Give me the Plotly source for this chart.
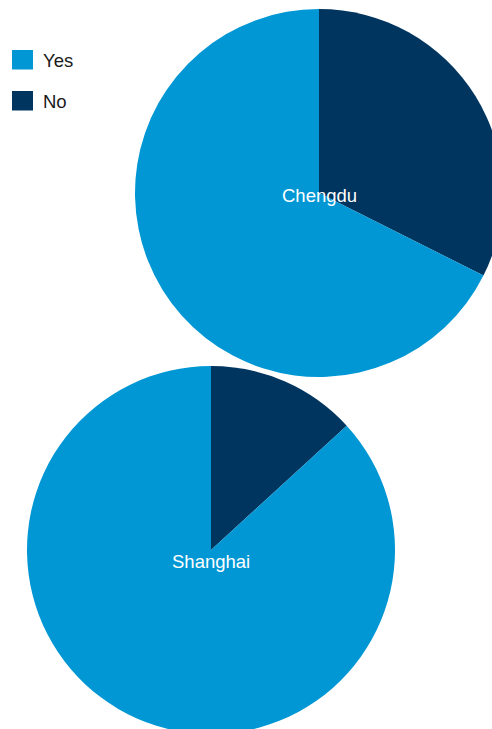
import plotly.graph_objects as go

# Share of respondents answering Yes / No, by city
cities = ["Chengdu", "Shanghai"]
answers = ["Yes", "No"]
chengdu_values = [67.6, 32.4]
shanghai_values = [86.8, 13.2]

colors = {"Yes": "#0097d4", "No": "#00355f"}
font_family = "Liberation Sans, Arial, Helvetica, sans-serif"

W, H = 510, 740


def px_x(x):
    return x / W


def px_y(y):
    return 1 - y / H


# Pie placement (pixel boxes: left, top, size) and label nudge below centre
boxes = {"Chengdu": (135, 9, 368), "Shanghai": (27, 366, 368)}
label_dy = {"Chengdu": 3, "Shanghai": 11}
values = {"Chengdu": chengdu_values, "Shanghai": shanghai_values}

fig = go.Figure()
annotations = []
for city in cities:
    left, top, size = boxes[city]
    # "No" slice starts at 12 o'clock and runs clockwise, "Yes" fills the rest
    order = answers[::-1]
    vals = values[city][::-1]
    fig.add_trace(go.Pie(
        labels=order,
        values=vals,
        name=city,
        marker=dict(colors=[colors[a] for a in order], line=dict(width=0)),
        textinfo="none",
        hoverinfo="label+percent+name",
        sort=False,
        direction="clockwise",
        rotation=0,
        showlegend=False,
        domain=dict(x=[px_x(left), px_x(left + size)],
                    y=[px_y(top + size), px_y(top)]),
    ))
    annotations.append(dict(
        text=city, showarrow=False,
        x=px_x(left + size / 2), y=px_y(top + size / 2 + label_dy[city]),
        xref="paper", yref="paper", xanchor="center", yanchor="middle",
        font=dict(family=font_family, size=18.5, color="white"),
    ))

# Legend: colour swatches with labels
shapes = []
for i, ans in enumerate(answers):
    y0 = 50 + i * 41
    shapes.append(dict(
        type="rect", xref="paper", yref="paper",
        x0=px_x(12), x1=px_x(33), y0=px_y(y0 + 19.5), y1=px_y(y0),
        fillcolor=colors[ans], line=dict(width=0),
    ))
    annotations.append(dict(
        text=ans, showarrow=False,
        x=px_x(41), y=px_y(y0 + 10),
        xref="paper", yref="paper", xanchor="left", yanchor="middle",
        font=dict(family=font_family, size=18.5, color="#1a1a1a"),
    ))

fig.update_layout(
    width=W, height=H,
    margin=dict(l=0, r=0, t=0, b=0),
    paper_bgcolor="white",
    plot_bgcolor="white",
    annotations=annotations,
    shapes=shapes,
    font=dict(family=font_family),
)

fig.write_html(
    "out.html",
    post_script=(
        "document.documentElement.style.overflow='hidden';"
        "document.body.style.overflow='hidden';"
        "document.body.style.margin='0';"
    ),
)
